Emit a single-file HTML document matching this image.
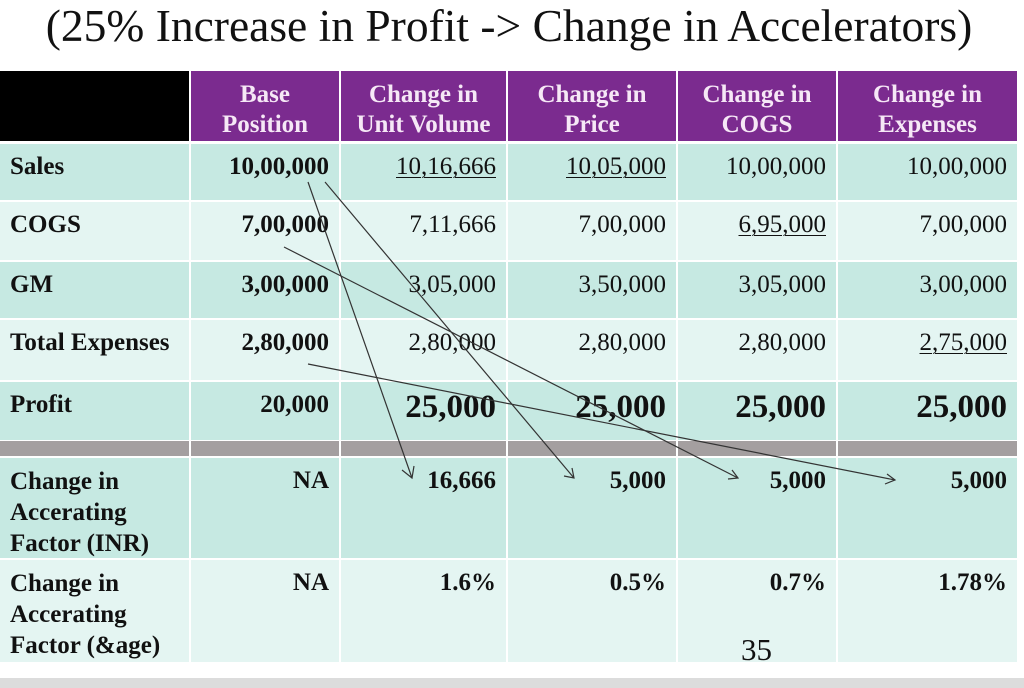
<!DOCTYPE html>
<html><head><meta charset="utf-8"><style>
body{margin:0;width:1024px;height:688px;background:#fff;position:relative;overflow:hidden;font-family:"Liberation Serif",serif;}
.t{position:absolute;left:0;top:0px;width:1018px;text-align:center;font-size:45.5px;line-height:52px;color:#111;white-space:nowrap;}
.c{position:absolute;box-sizing:border-box;font-size:25px;line-height:30px;color:#111;white-space:nowrap;}
.d{background:#c6e9e2}.l{background:#e4f5f2}
.h{background:#7b2b8f;color:#f6e8f6;font-weight:bold;text-align:center;line-height:30px;padding-top:9px;font-size:25px}
.r{text-align:right;padding-right:10px;padding-top:8px}
.lb{font-weight:bold;padding-left:10px;padding-top:8px}
.b{font-weight:bold}
.u{text-decoration:underline;text-decoration-thickness:1px;text-underline-offset:3px}
.big{font-size:33px;font-weight:bold;padding-top:10px}
.g{background:#a49fa0}
</style></head><body>
<div class="t">(25% Increase in Profit -&gt; Change in Accelerators)</div>

<div class="c" style="left:0;top:71px;width:189px;height:70px;background:#000"></div>
<div class="c h" style="left:191px;top:71px;width:148px;height:70px">Base<br>Position</div>
<div class="c h" style="left:341px;top:71px;width:165px;height:70px">Change in<br>Unit Volume</div>
<div class="c h" style="left:508px;top:71px;width:168px;height:70px">Change in<br>Price</div>
<div class="c h" style="left:678px;top:71px;width:158px;height:70px">Change in<br>COGS</div>
<div class="c h" style="left:838px;top:71px;width:179px;height:70px">Change in<br>Expenses</div>

<div class="c d lb" style="left:0;top:144px;width:189px;height:56px">Sales</div>
<div class="c d r b" style="left:191px;top:144px;width:148px;height:56px">10,00,000</div>
<div class="c d r" style="left:341px;top:144px;width:165px;height:56px"><span class="u">10,16,666</span></div>
<div class="c d r" style="left:508px;top:144px;width:168px;height:56px"><span class="u">10,05,000</span></div>
<div class="c d r" style="left:678px;top:144px;width:158px;height:56px">10,00,000</div>
<div class="c d r" style="left:838px;top:144px;width:179px;height:56px">10,00,000</div>

<div class="c l lb" style="left:0;top:202px;width:189px;height:58px">COGS</div>
<div class="c l r b" style="left:191px;top:202px;width:148px;height:58px">7,00,000</div>
<div class="c l r" style="left:341px;top:202px;width:165px;height:58px">7,11,666</div>
<div class="c l r" style="left:508px;top:202px;width:168px;height:58px">7,00,000</div>
<div class="c l r" style="left:678px;top:202px;width:158px;height:58px"><span class="u">6,95,000</span></div>
<div class="c l r" style="left:838px;top:202px;width:179px;height:58px">7,00,000</div>

<div class="c d lb" style="left:0;top:262px;width:189px;height:56px">GM</div>
<div class="c d r b" style="left:191px;top:262px;width:148px;height:56px">3,00,000</div>
<div class="c d r" style="left:341px;top:262px;width:165px;height:56px">3,05,000</div>
<div class="c d r" style="left:508px;top:262px;width:168px;height:56px">3,50,000</div>
<div class="c d r" style="left:678px;top:262px;width:158px;height:56px">3,05,000</div>
<div class="c d r" style="left:838px;top:262px;width:179px;height:56px">3,00,000</div>

<div class="c l lb" style="left:0;top:320px;width:189px;height:60px">Total Expenses</div>
<div class="c l r b" style="left:191px;top:320px;width:148px;height:60px">2,80,000</div>
<div class="c l r" style="left:341px;top:320px;width:165px;height:60px">2,80,000</div>
<div class="c l r" style="left:508px;top:320px;width:168px;height:60px">2,80,000</div>
<div class="c l r" style="left:678px;top:320px;width:158px;height:60px">2,80,000</div>
<div class="c l r" style="left:838px;top:320px;width:179px;height:60px"><span class="u">2,75,000</span></div>

<div class="c d lb" style="left:0;top:382px;width:189px;height:58px">Profit</div>
<div class="c d r b" style="left:191px;top:382px;width:148px;height:58px">20,000</div>
<div class="c d r big" style="left:341px;top:382px;width:165px;height:58px">25,000</div>
<div class="c d r big" style="left:508px;top:382px;width:168px;height:58px">25,000</div>
<div class="c d r big" style="left:678px;top:382px;width:158px;height:58px">25,000</div>
<div class="c d r big" style="left:838px;top:382px;width:179px;height:58px">25,000</div>

<div class="c g" style="left:0;top:441px;width:189px;height:15px"></div>
<div class="c g" style="left:191px;top:441px;width:148px;height:15px"></div>
<div class="c g" style="left:341px;top:441px;width:165px;height:15px"></div>
<div class="c g" style="left:508px;top:441px;width:168px;height:15px"></div>
<div class="c g" style="left:678px;top:441px;width:158px;height:15px"></div>
<div class="c g" style="left:838px;top:441px;width:179px;height:15px"></div>

<div class="c d lb" style="left:0;top:458px;width:189px;height:100px;line-height:31px">Change in<br>Accerating<br>Factor (INR)</div>
<div class="c d r b" style="left:191px;top:458px;width:148px;height:100px">NA</div>
<div class="c d r b" style="left:341px;top:458px;width:165px;height:100px">16,666</div>
<div class="c d r b" style="left:508px;top:458px;width:168px;height:100px">5,000</div>
<div class="c d r b" style="left:678px;top:458px;width:158px;height:100px">5,000</div>
<div class="c d r b" style="left:838px;top:458px;width:179px;height:100px">5,000</div>

<div class="c l lb" style="left:0;top:560px;width:189px;height:102px;line-height:31px">Change in<br>Accerating<br>Factor (&amp;age)</div>
<div class="c l r b" style="left:191px;top:560px;width:148px;height:102px">NA</div>
<div class="c l r b" style="left:341px;top:560px;width:165px;height:102px">1.6%</div>
<div class="c l r b" style="left:508px;top:560px;width:168px;height:102px">0.5%</div>
<div class="c l r b" style="left:678px;top:560px;width:158px;height:102px">0.7%</div>
<div class="c l r b" style="left:838px;top:560px;width:179px;height:102px">1.78%</div>

<div style="position:absolute;left:741px;top:633px;font-size:31px;color:#111;line-height:34px">35</div>
<div style="position:absolute;left:0;top:678px;width:1024px;height:10px;background:#dcdcdc"></div>

<svg style="position:absolute;left:0;top:0" width="1024" height="688">
<g stroke="#333" stroke-width="1.2" fill="none">
<line x1="308" y1="182" x2="412" y2="478"/>
<polyline points="402,470 412,478 414,466"/>
<line x1="325" y1="182" x2="574" y2="478"/>
<polyline points="564,476 574,478 572,468"/>
<line x1="284" y1="247" x2="738" y2="478"/>
<polyline points="728,479 738,478 732,470"/>
<line x1="308" y1="364" x2="895" y2="480"/>
<polyline points="885,484 895,480 887,474"/>
</g>
</svg>
</body></html>
